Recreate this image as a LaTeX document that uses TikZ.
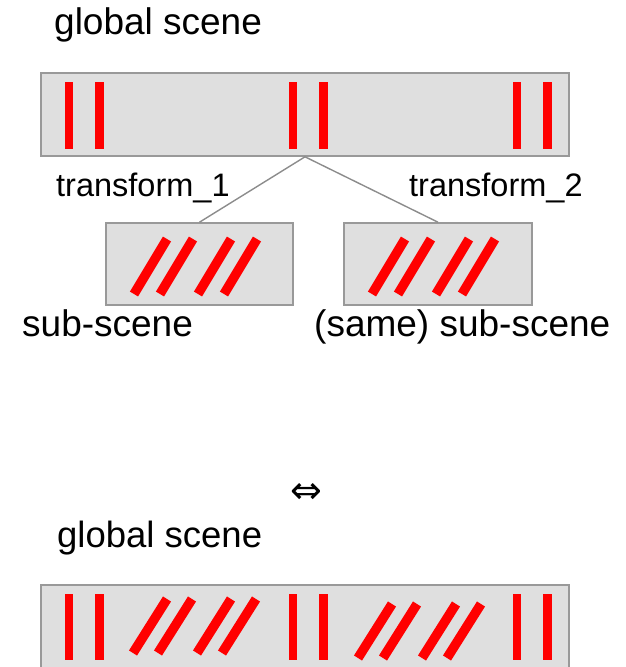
\documentclass[tikz,border=0pt]{standalone}
\usepackage{fontspec}
\setmainfont{Liberation Sans}
\newfontfamily\arrowfont{DejaVu Sans}
\usetikzlibrary{positioning}

\definecolor{boxfill}{HTML}{DFDFDF}
\definecolor{boxgray}{HTML}{999999}
\definecolor{lnkgray}{HTML}{8C8C8C}

\begin{document}
\begin{tikzpicture}[x=1pt, y=-1pt,
    scn/.style={draw=boxgray, fill=boxfill, line width=1.6pt, inner sep=0pt},
    bar/.style={draw=red, line width=8.5pt},
    slash/.style={draw=red, line width=9.5pt},
    lnk/.style={draw=lnkgray, line width=1.4pt},
    lbl/.style={inner sep=0pt, anchor=base west},
    big/.style={font=\fontsize{37}{40}\selectfont},
    mid/.style={font=\fontsize{32.5}{36}\selectfont}
]
\useasboundingbox (0,0) rectangle (626,667);

%% TOP: global scene with two instanced sub-scenes
\node[lbl, big] (gtitle) at (54,34) {global scene};
\node[scn, minimum width=528pt, minimum height=83pt] (glob) at (305,114.5) {};
\foreach \x in {69,99.5,293,323.5,517,547.5}{
  \draw[bar] (\x,82) -- (\x,149);
}

\node[scn, minimum width=187pt, minimum height=82pt] (subA) at (199.5,264) {};
\node[scn, minimum width=188pt, minimum height=82pt] (subB) at (438,264) {};
% slashes inside both sub-scenes
\foreach \ox in {134,372}{
  \foreach \dx in {0,26,64,90}{
    \draw[slash] (\ox+\dx,294) -- ++(33,-55);
  }
}

\draw[lnk] (glob.south) -- (subA.north);
\draw[lnk] (glob.south) -- (subB.north);
\node[lbl, mid] (tfA) at (56,196) {transform\_1};
\node[lbl, mid] (tfB) at (409,196) {transform\_2};

\node[lbl, big] (subAlbl) at (22,336) {sub-scene};
\node[lbl, big] (subBlbl) at (314,336) {(same) sub-scene};

%% equivalence
\node[font=\arrowfont\fontsize{38}{40}\selectfont, inner sep=0pt] (equiv) at (306,493) {⇔};

%% BOTTOM: flattened global scene
\node[lbl, font=\fontsize{36.5}{40}\selectfont] (ftitle) at (57,547) {global scene};
\node[scn, minimum width=528pt, minimum height=100pt] (flat) at (305,635) {};
\foreach \x in {69,99.5,293,323.5,517,547.5}{
  \draw[bar] (\x,594) -- (\x,660);
}
\foreach \ox/\oy in {133/653,358/658}{
  \foreach \dx in {0,25,64,89}{
    \draw[slash] (\ox+\dx,\oy) -- ++(34,-54);
  }
}
\end{tikzpicture}
\end{document}
